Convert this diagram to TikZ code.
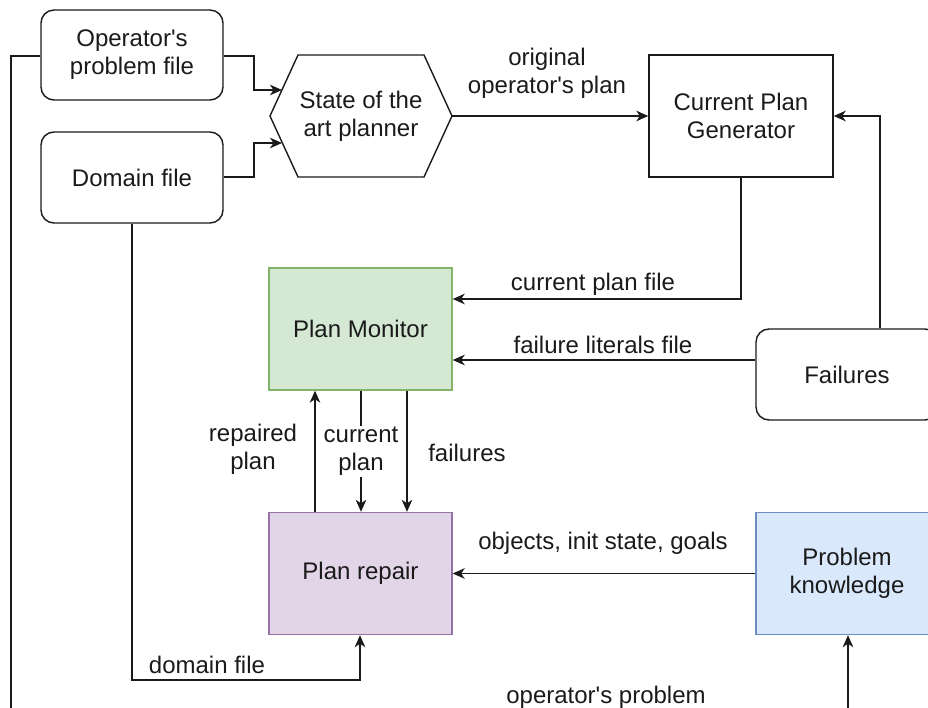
\documentclass[tikz,border=0pt]{standalone}
\usepackage{fontspec}
\setmainfont{Liberation Sans}
\usetikzlibrary{arrows.meta}
\definecolor{ink}{RGB}{26,26,26}
\definecolor{monfill}{HTML}{D5E8D4}\definecolor{monline}{HTML}{82B366}
\definecolor{repfill}{HTML}{E1D5E7}\definecolor{repline}{HTML}{9673A6}
\definecolor{kfill}{HTML}{DAE8FC}\definecolor{kline}{HTML}{6C8EBF}
\newcommand{\apos}{\textquotesingle}
\begin{document}
\begin{tikzpicture}[x=1pt,y=-1pt,
  every node/.style={font=\fontsize{24}{28}\selectfont, text=ink, align=center, inner sep=0pt},
  box/.style={draw=ink, line width=1.4pt, minimum width=182pt, minimum height=#1},
  box/.default=122pt,
  rbox/.style={box=#1, rounded corners=13pt},
  rbox/.default=90pt,
  flow/.style={draw=ink, line width=1.4pt, -{Stealth[length=12pt,width=10.5pt,inset=3.5pt]}}
]
\useasboundingbox (0,0) rectangle (928,708);
\clip (0,0) rectangle (928,708);

% inputs of the planner
\node[rbox=90pt] (opf) at (132,55) {Operator\apos s\\problem file};
\node[rbox=91pt] (dom) at (132,177.5) {Domain file};

% hexagonal planner
\node[minimum width=182pt, minimum height=122pt] (planner) at (361,116) {State of the\\art planner};
\draw[ink, line width=1.4pt] (270,116) -- (298,55) -- (424,55) -- (452,116) -- (424,177) -- (298,177) -- cycle;
\coordinate (pin1) at (282,90);
\coordinate (pin2) at (282,143);

\node[box=122pt, minimum width=184pt] (cpg) at (741,116) {Current Plan\\Generator};
\node[box=122pt, minimum width=183pt, fill=monfill, draw=monline] (pm) at (360.5,329) {Plan Monitor};
\node[rbox=91pt] (fail) at (847,374.5) {Failures};
\node[box=122pt, minimum width=183pt, fill=repfill, draw=repline] (pr) at (360.5,573.5) {Plan repair};
\node[box=122pt, fill=kfill, draw=kline] (pk) at (847,573.5) {Problem\\knowledge};

% planner inputs
\draw[flow] (opf.east |- 0,56) -| (254,90) -- (pin1);
\draw[flow] (dom.east |- 0,177) -| (254,143) -- (pin2);

% planner output
\draw[flow] (planner.east) -- (cpg.west);
\node (lorig) at (547,73) {original\\operator\apos s plan};

% current plan file
\draw[flow] (cpg.south) |- (pm.east |- 0,299);
\node (lcur) at (593,284) {current plan file};

% failures literals
\draw[flow] (fail.west |- 0,360) -- (pm.east |- 0,360);
\node (lfl) at (603,345) {failure literals file};
\draw[flow] (fail.north -| 880,0) |- (cpg.east);

% monitor <-> repair
\draw[flow] (pr.north -| 315,0) -- (pm.south -| 315,0);
\node (lrep) at (253,449) {repaired\\plan};
\draw[flow] (pm.south -| 361,0) -- (pr.north -| 361,0)
  node[pos=0.5, fill=white, inner sep=1pt] (lcp) {current\\plan};
\draw[flow] (pm.south -| 407,0) -- (pr.north -| 407,0);
\node (lfails) at (467,453) {failures};

% problem knowledge
\draw[flow] (pk.west) -- (pr.east);
\node (lobj) at (603,543) {objects, init state, goals};

% domain file into repair
\draw[flow] (dom.south) |- (360,680) -- (pr.south -| 360,0);
\node (ldom) at (207,665) {domain file};

% operator's problem into knowledge
\coordinate (low1) at (11,722);
\coordinate (low2) at (848,722);
\draw[flow] (opf.west |- 0,56) -| (low1) -- (low2) -- (pk.south -| 848,0);
\node (lop) at (606,697) {operator\apos s problem};
\end{tikzpicture}
\end{document}
